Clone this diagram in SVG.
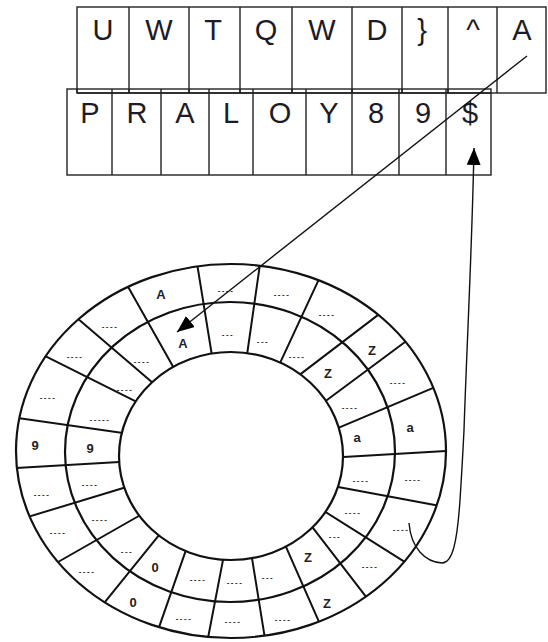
<svg xmlns="http://www.w3.org/2000/svg" width="548" height="642" viewBox="0 0 548 642">
<style>
.cell{fill:#fff;stroke:#222;stroke-width:1.4}
.vl{stroke:#222;stroke-width:1.4}
.big{font-family:"Liberation Sans Narrow","Liberation Sans",Arial,sans-serif;font-size:29px;fill:#1c1c28;text-anchor:middle}
.rl{fill:none;stroke:#111;stroke-width:2.2}
.dv{stroke:#111;stroke-width:2}
.l{font-family:"Liberation Sans",Arial,sans-serif;font-weight:bold;font-size:13px;fill:#222;text-anchor:middle}
.d{font-family:"Liberation Sans",Arial,sans-serif;font-weight:bold;font-size:8px;letter-spacing:1.5px;fill:#222;text-anchor:middle}
.con{fill:none;stroke:#111;stroke-width:1.4}
</style>
<defs>
<marker id="ah" markerUnits="userSpaceOnUse" markerWidth="18" markerHeight="14" refX="17" refY="7" orient="auto">
<path d="M0,0 L17,7 L0,14 Z" fill="#000"/>
</marker>
<clipPath id="ringclip">
<path clip-rule="evenodd" d="M16,451 a215,187 0 1,0 430,0 a215,187 0 1,0 -430,0 Z M119,456 a112,104 0 1,0 224,0 a112,104 0 1,0 -224,0 Z"/>
</clipPath>
</defs>
<rect width="548" height="642" fill="#fff"/>

<g id="array-top">
<rect class="cell" x="77" y="7" width="469" height="86"/>
<path class="vl" d="M129,7V93 M189,7V93 M240,7V93 M292,7V93 M352,7V93 M402,7V93 M448,7V93 M497,7V93"/>
<text class="big" x="103" y="40">U</text>
<text class="big" x="159" y="40">W</text>
<text class="big" x="213" y="40">T</text>
<text class="big" x="266" y="40">Q</text>
<text class="big" x="322" y="40">W</text>
<text class="big" x="377" y="40">D</text>
<text class="big" x="422" y="40">}</text>
<text class="big" x="473" y="40">^</text>
<text class="big" x="522" y="40">A</text>
</g>

<g id="array-bottom">
<rect class="cell" x="67" y="89" width="424" height="86" fill-opacity="0"/>
<path class="vl" d="M112,89V175 M161,89V175 M209,89V175 M253,89V175 M306,89V175 M352,89V175 M399,89V175 M446,89V175"/>
<path class="vl" d="M77,89V93 M129,89V93 M189,89V93 M240,89V93 M292,89V93 M352,89V93 M402,89V93 M448,89V93 M77,93H491"/>
<text class="big" x="90" y="123">P</text>
<text class="big" x="137" y="123">R</text>
<text class="big" x="185" y="123">A</text>
<text class="big" x="231" y="123">L</text>
<text class="big" x="280" y="123">O</text>
<text class="big" x="329" y="123">Y</text>
<text class="big" x="376" y="123">8</text>
<text class="big" x="423" y="123">9</text>
<text class="big" x="470" y="123">$</text>
</g>

<g id="ring">
<g clip-path="url(#ringclip)">
<path class="dv" d="M196,257L213,362 M261,257L246,362 M323.4,269.7L276.6,370.3 M384.4,310.1L295.6,377.9 M411.4,337.2L320.6,404.8 M440.4,384.9L330.6,431.1 M455,450.5L335,457.5 M442.9,506.5L330.1,485.5 M411.8,566.3L320.2,508.7 M371.9,604.3L308.1,521.7 M323.2,631.3L282.8,539.7 M266.3,646.9L250.7,550.1 M206.5,645.9L224.5,552.1 M155.4,637.6L187.6,545.4 M100,608.2L160,533.8 M51,566L144,513 M20.3,519.3L130.7,485.7 M7,468.5L128,461.5 M10,416.9L130,434.1 M39.8,353.4L144.2,405.6 M70.9,312.8L159.1,388.2 M123.1,278L178.9,377"/>
</g>
<ellipse class="rl" cx="231" cy="451" rx="215" ry="187"/>
<ellipse class="rl" cx="230" cy="452" rx="165" ry="150"/>
<ellipse class="rl" cx="231" cy="456" rx="112" ry="104"/>
<g id="ring-outer-labels">
<text class="l" x="161" y="299">A</text>
<text class="d" x="226" y="293">----</text>
<text class="d" x="282" y="297">----</text>
<text class="d" x="327" y="317">----</text>
<text class="l" x="372" y="355">Z</text>
<text class="d" x="398" y="385">----</text>
<text class="l" x="410" y="432">a</text>
<text class="d" x="413" y="482">----</text>
<text class="d" x="401" y="532">----</text>
<text class="d" x="370" y="569">----</text>
<text class="l" x="327" y="608">Z</text>
<text class="d" x="283" y="622">----</text>
<text class="d" x="233" y="624">----</text>
<text class="d" x="184" y="621">----</text>
<text class="l" x="133" y="607">0</text>
<text class="d" x="87" y="574">----</text>
<text class="d" x="58" y="535">----</text>
<text class="d" x="42" y="497">----</text>
<text class="l" x="35" y="450">9</text>
<text class="d" x="48" y="400">----</text>
<text class="d" x="75" y="359">----</text>
<text class="d" x="110" y="329">----</text>
</g>
<g id="ring-inner-labels">
<text class="l" x="183" y="348">A</text>
<text class="d" x="228" y="337">---</text>
<text class="d" x="263" y="344">---</text>
<text class="d" x="297" y="359">----</text>
<text class="l" x="328" y="378">Z</text>
<text class="d" x="350" y="410">----</text>
<text class="l" x="357" y="442">a</text>
<text class="d" x="361" y="483">----</text>
<text class="d" x="353" y="515">----</text>
<text class="d" x="335" y="539">---</text>
<text class="l" x="308" y="562">Z</text>
<text class="d" x="268" y="580">---</text>
<text class="d" x="235" y="585">----</text>
<text class="d" x="198" y="582">----</text>
<text class="l" x="155" y="572">0</text>
<text class="d" x="127" y="554">---</text>
<text class="d" x="100" y="522">----</text>
<text class="d" x="90" y="487">----</text>
<text class="l" x="90" y="453">9</text>
<text class="d" x="100" y="422">-----</text>
<text class="d" x="125" y="392">----</text>
<text class="d" x="142" y="364">----</text>
</g>
</g>

<g id="connectors">
<path class="con" d="M527,56 L177,332" marker-end="url(#ah)"/>
<path class="con" d="M409,523 C411,548 425,562 442,563 C452,563 457,545 460,500 C462,470 463,450 464,430 C467,340 472,250 474,148" marker-end="url(#ah)"/>
</g>
</svg>
